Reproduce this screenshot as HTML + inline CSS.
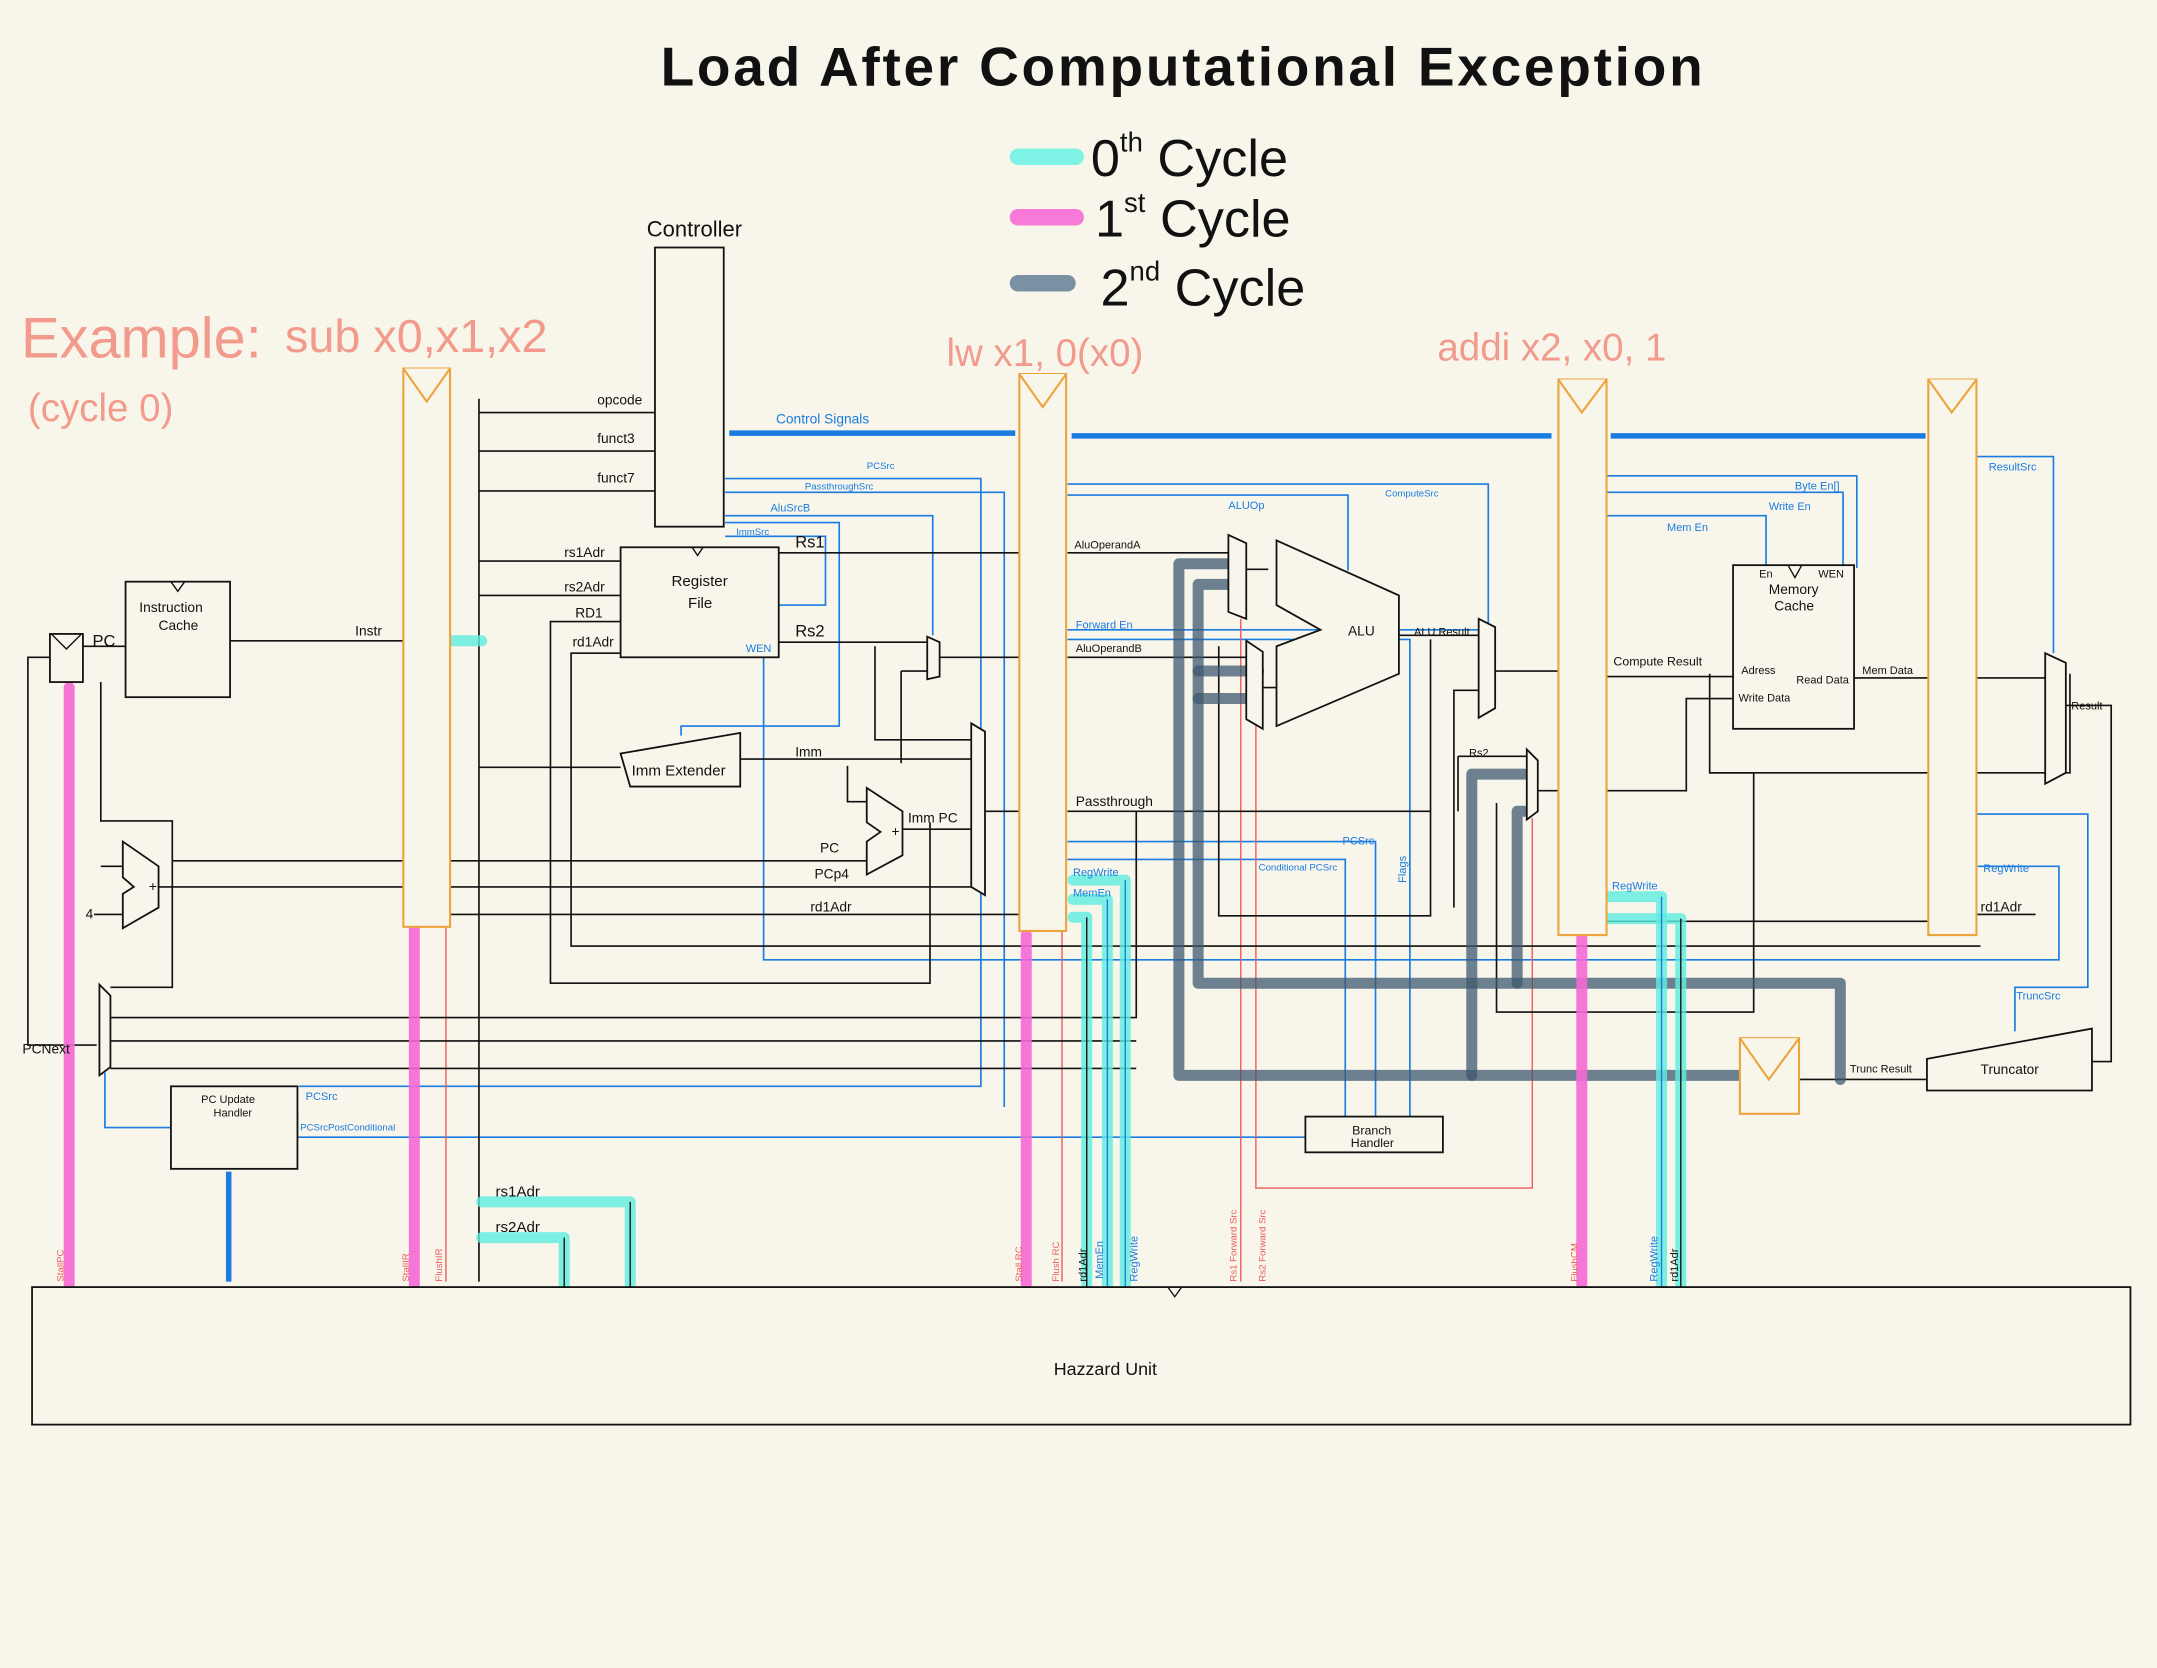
<!DOCTYPE html>
<html><head><style>
html,body{margin:0;padding:0;background:#f8f6eb;}
svg{display:block}
text{font-family:"Liberation Sans",sans-serif}
</style></head><body>
<svg width="2157" height="1668" viewBox="0 0 1568 1213" xmlns="http://www.w3.org/2000/svg">
<rect width="1568" height="1213" fill="#f8f6eb"/>
<!-- title -->
<text x="860" y="62" font-size="40" text-anchor="middle" font-weight="bold" fill="#111" letter-spacing="2">Load After Computational Exception</text>
<line x1="740" y1="114" x2="782" y2="114" stroke="#7ff2e6" stroke-width="12" stroke-linecap="round"/>
<line x1="740" y1="158" x2="782" y2="158" stroke="#f77ad8" stroke-width="12" stroke-linecap="round"/>
<line x1="740" y1="206" x2="776" y2="206" stroke="#7a90a3" stroke-width="12" stroke-linecap="round"/>
<text x="793" y="128" font-size="38" fill="#111">0<tspan font-size="20" dy="-18">th</tspan><tspan dy="18"> Cycle</tspan></text>
<text x="796" y="172" font-size="38" fill="#111">1<tspan font-size="20" dy="-18">st</tspan><tspan dy="18"> Cycle</tspan></text>
<text x="800" y="222" font-size="38" fill="#111">2<tspan font-size="20" dy="-18">nd</tspan><tspan dy="18"> Cycle</tspan></text>
<!-- examples -->
<g fill="#f29a8c">
<text x="15" y="260" font-size="42">Example:</text>
<text x="207" y="256" font-size="34">sub x0,x1,x2</text>
<text x="20" y="306" font-size="28">(cycle 0)</text>
<text x="688" y="266" font-size="28">lw x1, 0(x0)</text>
<text x="1045" y="262" font-size="28">addi x2, x0, 1</text>
</g>
<!-- thick blue control -->
<g stroke="#1a7be0" stroke-width="4">
<line x1="530" y1="315" x2="738" y2="315"/><line x1="779" y1="317" x2="1128" y2="317"/><line x1="1171" y1="317" x2="1400" y2="317"/>
<line x1="166" y1="852" x2="166" y2="932"/>
</g>
<!-- thin blue lines -->
<g stroke="#1a7be0" stroke-width="1.2" fill="none">
<polyline points="527,348 713,348 713,790 217,790"/>
<polyline points="527,358 730,358 730,805"/>
<polyline points="527,375 678,375 678,462"/>
<polyline points="527,380 610,380 610,528 495,528 495,535"/>
<polyline points="527,390 600,390 600,440 555,440 555,698 1497,698 1497,630 1438,630"/>
<polyline points="776,352 1082,352 1082,455"/>
<polyline points="776,360 980,360 980,415"/>
<polyline points="776,458 1085,458 1085,468"/>
<polyline points="776,465 1025,465 1025,815"/>
<polyline points="776,612 1000,612 1000,812"/>
<polyline points="776,625 978,625 978,812"/>
<polyline points="1168,346 1350,346 1350,413"/>
<polyline points="1168,358 1340,358 1340,413"/>
<polyline points="1168,375 1284,375 1284,413"/>
<polyline points="1437,332 1493,332 1493,475"/>
<polyline points="1437,592 1518,592 1518,718 1465,718 1465,750"/>
<polyline points="216,808 216,827 949,827"/>
<polyline points="76,780 76,820 124,820"/>
<line x1="0" y1="0" x2="0" y2="0"/>
</g>
<!-- thin red lines -->
<g stroke="#ee5a5a" stroke-width="1" fill="none">
<line x1="324" y1="674" x2="324" y2="932"/>
<line x1="772" y1="677" x2="772" y2="932"/>
<line x1="902" y1="450" x2="902" y2="932"/>
<polyline points="913,500 913,864 1114,864 1114,595"/>
</g>
<!-- black thin lines -->
<g stroke="#111" stroke-width="1.2" fill="none">
<line x1="348" y1="290" x2="348" y2="932"/>
<line x1="348" y1="300" x2="476" y2="300"/><line x1="348" y1="328" x2="476" y2="328"/><line x1="348" y1="357" x2="476" y2="357"/>
<line x1="348" y1="408" x2="451" y2="408"/><line x1="348" y1="433" x2="451" y2="433"/>
<polyline points="451,452 400,452 400,715 676,715 676,598"/>
<polyline points="451,475 415,475 415,688 1440,688"/>
<line x1="348" y1="558" x2="451" y2="558"/>
<line x1="167" y1="466" x2="293" y2="466"/>
<polyline points="36,478 20,478 20,760 70,760"/>
<polyline points="73,496 73,597 125,597 125,718 80,718"/>
<line x1="60" y1="470" x2="91" y2="470"/>
<line x1="73" y1="630" x2="89" y2="630"/><line x1="68" y1="665" x2="89" y2="665"/>
<line x1="115" y1="645" x2="293" y2="645"/>
<line x1="125" y1="626" x2="293" y2="626"/>
<line x1="327" y1="645" x2="706" y2="645"/>
<line x1="327" y1="626" x2="630" y2="626"/>
<line x1="327" y1="665" x2="741" y2="665"/>
<line x1="566" y1="402" x2="741" y2="402"/>
<polyline points="566,467 676,467"/>
<polyline points="683,478 741,478"/>
<polyline points="655,488 676,488"/>
<polyline points="538,552 706,552"/>
<polyline points="636,470 636,538 706,538"/>
<polyline points="655,488 655,555"/>
<polyline points="616,557 616,583 630,583"/>
<line x1="656" y1="603" x2="706" y2="603"/>
<line x1="716" y1="590" x2="741" y2="590"/>
<line x1="776" y1="402" x2="893" y2="402"/>
<line x1="776" y1="478" x2="906" y2="478"/>
<line x1="776" y1="590" x2="1040" y2="590"/>
<polyline points="826,590 826,740 80,740"/>
<line x1="80" y1="757" x2="826" y2="757"/>
<polyline points="1040,465 1040,666 886,666 886,470"/>
<polyline points="1057,660 1057,502 1075,502"/>
<line x1="1017" y1="462" x2="1075" y2="462"/>
<line x1="1087" y1="488" x2="1133" y2="488"/>
<line x1="1060" y1="550" x2="1110" y2="550"/>
<polyline points="1060,550 1060,590"/>
<line x1="1118" y1="575" x2="1133" y2="575"/>
<polyline points="1088,584 1088,736 1275,736 1275,562 1243,562 1243,490"/>
<line x1="1168" y1="492" x2="1260" y2="492"/>
<polyline points="1168,575 1226,575 1226,508 1260,508"/>
<line x1="1348" y1="493" x2="1402" y2="493"/>
<polyline points="1243,562 1505,562 1505,490"/>
<line x1="1437" y1="493" x2="1487" y2="493"/>
<polyline points="1502,513 1535,513 1535,772 1521,772"/>
<line x1="1308" y1="785" x2="1401" y2="785"/>
<line x1="1168" y1="670" x2="1402" y2="670"/>
<line x1="1437" y1="665" x2="1480" y2="665"/>
<line x1="80" y1="777" x2="826" y2="777"/>
<polyline points="906,414 922,414"/>
<line x1="918" y1="500" x2="928" y2="500"/>
</g>
<!-- slate thick -->
<g stroke="#3f5870" stroke-width="8" stroke-opacity="0.75" fill="none" stroke-linecap="round" stroke-linejoin="round">
<polyline points="893,410 857,410 857,782 1265,782"/>
<polyline points="893,425 871,425 871,715 1338,715 1338,785"/>
<line x1="871" y1="488" x2="915" y2="488"/>
<line x1="871" y1="508" x2="910" y2="508"/>
<polyline points="1108,563 1070,563 1070,782"/>
<polyline points="1108,590 1103,590 1103,715"/>
</g>
<!-- cyan thick -->
<g stroke="#5eeee0" stroke-width="8" stroke-opacity="0.8" fill="none" stroke-linecap="round" stroke-linejoin="round">
<line x1="325" y1="466" x2="350" y2="466"/>
<polyline points="350,874 458,874 458,936"/>
<polyline points="350,900 410,900 410,936"/>
<polyline points="780,640 818,640 818,936"/>
<polyline points="780,654 805,654 805,936"/>
<polyline points="780,667 790,667 790,936"/>
<polyline points="1168,652 1208,652 1208,936"/>
<polyline points="1168,668 1222,668 1222,936"/>
</g>
<g stroke="#1a7be0" stroke-width="1" fill="none">
<line x1="818" y1="640" x2="818" y2="936"/><line x1="805" y1="654" x2="805" y2="936"/><line x1="1208" y1="652" x2="1208" y2="936"/>
</g>
<g stroke="#111" stroke-width="1" fill="none"><line x1="790" y1="667" x2="790" y2="936"/><line x1="1222" y1="668" x2="1222" y2="936"/><line x1="458" y1="874" x2="458" y2="936"/><line x1="410" y1="900" x2="410" y2="936"/></g>
<!-- pink thick -->
<g stroke="#f568d5" stroke-width="8" stroke-opacity="0.9" stroke-linecap="round">
<line x1="50" y1="500" x2="50" y2="934"/><line x1="301" y1="676" x2="301" y2="934"/>
<line x1="746" y1="680" x2="746" y2="934"/><line x1="1150" y1="682" x2="1150" y2="934"/>
</g>
<!-- pipeline regs -->
<g fill="#f8f6eb" stroke="#eca33b" stroke-width="1.5">
<rect x="293" y="268" width="34" height="406"/><polyline points="293,268 310,292 327,268"/>
<rect x="741" y="272" width="34" height="405"/><polyline points="741,272 758,296 775,272"/>
<rect x="1133" y="276" width="35" height="404"/><polyline points="1133,276 1150,300 1168,276"/>
<rect x="1402" y="276" width="35" height="404"/><polyline points="1402,276 1419,300 1437,276"/>
<rect x="1265" y="755" width="43" height="55"/><polyline points="1265,755 1286,785 1308,755"/>
</g>
<!-- boxes -->
<g fill="#f8f6eb" stroke="#111" stroke-width="1.3">
<rect x="476" y="180" width="50" height="203"/>
<rect x="451" y="398" width="115" height="80"/>
<rect x="91" y="423" width="76" height="84"/>
<rect x="36" y="461" width="24" height="35"/>
<polygon points="451,548 538,533 538,572 458,572"/>
<polygon points="928,393 1017,433 1017,490 928,528 928,470 960,458 928,440"/>
<rect x="1260" y="411" width="88" height="119"/>
<rect x="949" y="812" width="100" height="26"/>
<rect x="124" y="790" width="92" height="60"/>
<polygon points="1401,770 1521,748 1521,793 1401,793"/>
<rect x="23" y="936" width="1526" height="100"/>
<polygon points="893,389 906,395 906,450 893,445"/>
<polygon points="906,466 918,474 918,530 906,523"/>
<polygon points="674,463 683,467 683,492 674,494"/>
<polygon points="706,526 716,532 716,651 706,645"/>
<polygon points="630,573 656,590 656,622 630,636 630,612 640,605 630,598"/>
<polygon points="89,612 115,630 115,660 89,675 89,650 97,645 89,638"/>
<polygon points="72,716 80,724 80,776 72,782"/>
<polygon points="1075,450 1087,456 1087,515 1075,522"/>
<polygon points="1110,545 1118,553 1118,590 1110,596"/>
<polygon points="1487,475 1502,482 1502,562 1487,570"/>
</g>
<g fill="none" stroke="#111" stroke-width="1"><polyline points="503,398 507,404 511,398"/><polyline points="124,423 129,430 134,423"/><polyline points="37,461 48,472 59,461"/><polyline points="1300,411 1305,420 1310,411"/><polyline points="849,936 854,943 859,936"/></g>
<!-- black labels -->
<g fill="#111" font-size="10">
<text x="470" y="172" font-size="16">Controller</text>
<text x="434" y="294">opcode</text><text x="434" y="322">funct3</text><text x="434" y="351">funct7</text>
<text x="410" y="405">rs1Adr</text><text x="410" y="430">rs2Adr</text><text x="418" y="449">RD1</text><text x="416" y="470">rd1Adr</text>
<text x="488" y="426" font-size="11">Register</text><text x="500" y="442" font-size="11">File</text>
<text x="578" y="398" font-size="12">Rs1</text><text x="578" y="463" font-size="12">Rs2</text>
<text x="101" y="445">Instruction</text><text x="115" y="458">Cache</text>
<text x="67" y="470" font-size="12">PC</text>
<text x="258" y="462">Instr</text>
<text x="459" y="564" font-size="11">Imm Extender</text>
<text x="578" y="550">Imm</text><text x="660" y="598">Imm PC</text>
<text x="596" y="620">PC</text><text x="592" y="639">PCp4</text><text x="589" y="663">rd1Adr</text>
<text x="62" y="668">4</text><text x="108" y="648">+</text><text x="648" y="608">+</text>
<text x="16" y="766">PCNext</text>
<text x="146" y="802" font-size="8">PC Update</text><text x="155" y="812" font-size="8">Handler</text>
<text x="781" y="399" font-size="8">AluOperandA</text><text x="782" y="474" font-size="8">AluOperandB</text>
<text x="782" y="586">Passthrough</text>
<text x="980" y="462">ALU</text><text x="1028" y="462" font-size="8">ALU Result</text>
<text x="1068" y="550" font-size="8">Rs2</text>
<text x="1173" y="484" font-size="9">Compute Result</text>
<text x="1279" y="420" font-size="8">En</text><text x="1322" y="420" font-size="8">WEN</text>
<text x="1286" y="432">Memory</text><text x="1290" y="444">Cache</text>
<text x="1266" y="490" font-size="8">Adress</text><text x="1306" y="497" font-size="8">Read Data</text><text x="1264" y="510" font-size="8">Write Data</text>
<text x="1354" y="490" font-size="8">Mem Data</text><text x="1506" y="516" font-size="8">Result</text>
<text x="1440" y="663">rd1Adr</text>
<text x="1345" y="780" font-size="8">Trunc Result</text><text x="1440" y="781">Truncator</text>
<text x="983" y="825" font-size="9">Branch</text><text x="982" y="834" font-size="9">Handler</text>
<text x="360" y="870" font-size="11">rs1Adr</text><text x="360" y="896" font-size="11">rs2Adr</text>
<text x="766" y="1000" font-size="13">Hazzard Unit</text>
</g>
<!-- blue labels -->
<g fill="#1a7be0" font-size="8">
<text x="564" y="308" font-size="10">Control Signals</text>
<text x="630" y="341" font-size="7">PCSrc</text><text x="585" y="356" font-size="7">PassthroughSrc</text>
<text x="560" y="372">AluSrcB</text><text x="535" y="389" font-size="7">ImmSrc</text>
<text x="542" y="474">WEN</text>
<text x="893" y="370">ALUOp</text><text x="1007" y="361" font-size="7">ComputeSrc</text>
<text x="782" y="457">Forward En</text>
<text x="976" y="614">PCSrc</text><text x="915" y="633" font-size="7">Conditional PCSrc</text>
<text x="1022" y="642" transform="rotate(-90 1022 642)">Flags</text>
<text x="780" y="637">RegWrite</text><text x="780" y="652">MemEn</text>
<text x="1172" y="647">RegWrite</text>
<text x="1305" y="356">Byte En[]</text><text x="1286" y="371">Write En</text><text x="1212" y="386">Mem En</text>
<text x="1446" y="342">ResultSrc</text><text x="1442" y="634">RegWrite</text><text x="1466" y="727">TruncSrc</text>
<text x="222" y="800">PCSrc</text><text x="218" y="822" font-size="7">PCSrcPostConditional</text>
<text x="802" y="930" transform="rotate(-90 802 930)">MemEn</text>
<text x="827" y="932" transform="rotate(-90 827 932)">RegWrite</text>
<text x="1205" y="932" transform="rotate(-90 1205 932)">RegWrite</text>
</g>
<g fill="#111" font-size="8">
<text x="790" y="932" transform="rotate(-90 790 932)">rd1Adr</text>
<text x="1220" y="932" transform="rotate(-90 1220 932)">rd1Adr</text>
</g>
<g fill="#ee5a5a" font-size="7">
<text x="46" y="932" transform="rotate(-90 46 932)">StallPC</text>
<text x="297" y="932" transform="rotate(-90 297 932)">StallIR</text>
<text x="321" y="932" transform="rotate(-90 321 932)">FlushIR</text>
<text x="743" y="932" transform="rotate(-90 743 932)">Stall RC</text>
<text x="770" y="932" transform="rotate(-90 770 932)">Flush RC</text>
<text x="899" y="932" transform="rotate(-90 899 932)">Rs1 Forward Src</text>
<text x="920" y="932" transform="rotate(-90 920 932)">Rs2 Forward Src</text>
<text x="1147" y="932" transform="rotate(-90 1147 932)">FlushCM</text>
</g>
</svg>
</body></html>
